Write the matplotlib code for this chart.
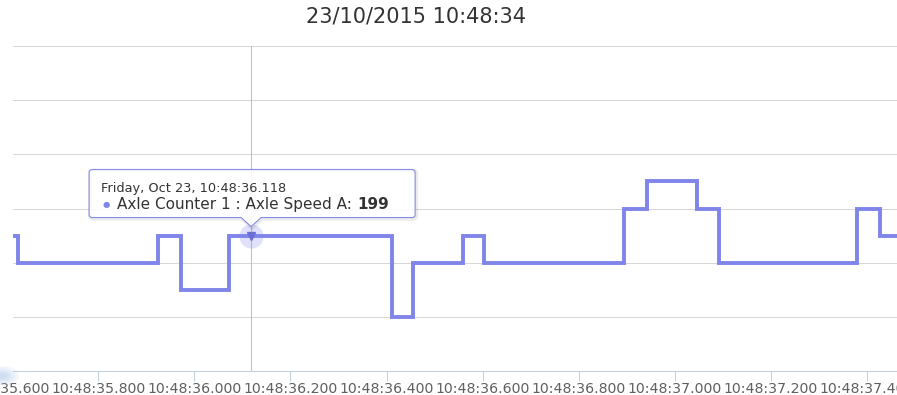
import matplotlib
matplotlib.use("Agg")
import matplotlib.pyplot as plt
from matplotlib.ticker import FixedLocator, FuncFormatter
from matplotlib.patches import PathPatch, Ellipse
from matplotlib.path import Path
from matplotlib.transforms import IdentityTransform

# ---- data -------------------------------------------------------------
title = "23/10/2015 10:48:34"
series_name = "Axle Counter 1 : Axle Speed A"
# seconds past 10:48 at which the speed changes, and the value held from then on
step_times = [35.600, 35.632, 35.924, 35.972, 36.072, 36.411, 36.455, 36.559,
              36.603, 36.895, 36.943, 37.047, 37.093, 37.380, 37.428, 37.480]
step_values = [199, 198, 199, 197, 199, 196, 198, 199,
               198, 200, 201, 200, 198, 200, 199, 199]
tick_times = [35.6, 35.8, 36.0, 36.2, 36.4, 36.6, 36.8, 37.0, 37.2, 37.4]
grid_values = [194, 196, 198, 200, 202, 204, 206]
hover_time = 36.118
hover_value = 199
hover_header = "Friday, Oct 23, 10:48:36.118"

# ---- style ------------------------------------------------------------
W, H = 897, 395
SERIES = "#8085e9"
TEXT = "#333333"
AXIS = "#c0d0e0"
GRID = "#d8d8d8"
LABEL = "#606060"
FONT = "DejaVu Sans"
plt.rcParams["font.family"] = [FONT]


def fmt(t, pos=None):
    return "10:48:%.3f" % t


fig = plt.figure(figsize=(W / 100, H / 100), dpi=100)
fig.patch.set_facecolor("white")
ax = fig.add_axes([13 / W, (H - 371) / H, (W - 13) / W, (371 - 46) / H])
ax.set_xlim(35.6219, 37.4635)
ax.set_ylim(grid_values[0], grid_values[-1])

for s in ("left", "right", "top"):
    ax.spines[s].set_visible(False)
ax.spines["bottom"].set_color(AXIS)
ax.spines["bottom"].set_linewidth(0.75)
ax.spines["bottom"].set_zorder(3)

ax.set_yticks(grid_values)
ax.tick_params(axis="y", length=0, labelleft=False)
ax.yaxis.grid(True, color=GRID, lw=0.75)
ax.set_axisbelow(True)

ax.xaxis.set_major_locator(FixedLocator(tick_times))
ax.xaxis.set_major_formatter(FuncFormatter(fmt))
tick_len, tick_pad, tick_size = 7.2, 0.5, 10.2
ax.tick_params(axis="x", direction="out", length=tick_len, width=0.75,
               color=AXIS, labelsize=tick_size, labelcolor=LABEL, pad=tick_pad)
# labels of ticks that sit just outside the plot area are still shown
x0, x1 = ax.get_xlim()
for t in tick_times:
    if t < x0 or t > x1:
        ax.annotate(fmt(t), xy=(t, 0), xycoords=ax.get_xaxis_transform(),
                    xytext=(0, -(tick_len + tick_pad)), textcoords="offset points",
                    ha="center", va="top", fontsize=tick_size, color=LABEL,
                    annotation_clip=False)

# crosshair, series and hovered point
ax.axvline(hover_time, color="#c0c0c0", lw=0.75, zorder=2)
ax.step(step_times, step_values, where="post", color=SERIES, lw=2.8,
        solid_joinstyle="miter", zorder=3)
ax.scatter([hover_time], [hover_value], s=300, color=SERIES, alpha=0.25,
           lw=0, zorder=4)
ax.plot([hover_time], [hover_value], marker="v", ms=6, color="#6a6fd8",
        lw=0, zorder=5)

# title
fig.text(416 / W, 1 - 17 / H, title, ha="center", va="center",
         fontsize=15, color=TEXT)

# faint blue smudge in the lower-left corner
for w, h, a in [(36, 20, 0.18), (28, 15, 0.22), (20, 10, 0.25), (12, 6, 0.3)]:
    fig.add_artist(Ellipse((1, 19), w, h, transform=IdentityTransform(),
                           facecolor="#b9d0ee", edgecolor="none", alpha=a))

# ---- tooltip ----------------------------------------------------------
axp, ayp = ax.transData.transform((hover_time, hover_value))
left, right = axp - 162, axp + 164
top, bottom = ayp + 66, ayp + 18
tip_y, notch = ayp + 9, 10
r = 3
verts = [
    (left + r, top), (right - r, top), (right, top), (right, top - r),
    (right, bottom + r), (right, bottom), (right - r, bottom),
    (axp + notch, bottom), (axp, tip_y), (axp - notch, bottom),
    (left + r, bottom), (left, bottom), (left, bottom + r),
    (left, top - r), (left, top), (left + r, top), (left + r, top),
]
codes = [
    Path.MOVETO, Path.LINETO, Path.CURVE3, Path.CURVE3,
    Path.LINETO, Path.CURVE3, Path.CURVE3,
    Path.LINETO, Path.LINETO, Path.LINETO,
    Path.LINETO, Path.CURVE3, Path.CURVE3,
    Path.LINETO, Path.CURVE3, Path.CURVE3, Path.CLOSEPOLY,
]
box = Path(verts, codes)
shadow = Path([(x + 1, y - 1) for x, y in verts], codes)
fig.add_artist(PathPatch(shadow, transform=IdentityTransform(), facecolor="none",
                         edgecolor=(0, 0, 0, 0.08), lw=3, zorder=9))
fig.add_artist(PathPatch(box, transform=IdentityTransform(),
                         facecolor=(1, 1, 1, 0.9), edgecolor=SERIES, lw=0.75,
                         zorder=10))

fig.text(axp - 150, ayp + 44, hover_header, transform=IdentityTransform(),
         fontsize=9.3, color=TEXT, ha="left", va="baseline", zorder=11)
fig.text(axp - 145, ayp + 31, "\u25cf", transform=IdentityTransform(),
         fontsize=6, color=SERIES, ha="center", va="center", zorder=11)
name_txt = fig.text(axp - 134, ayp + 26.5, series_name + ": ",
                    transform=IdentityTransform(), fontsize=11, color=TEXT,
                    ha="left", va="baseline", zorder=11)
fig.canvas.draw()
bb = name_txt.get_window_extent()
fig.text(bb.x1, ayp + 26.5, str(hover_value), transform=IdentityTransform(),
         fontsize=11, color=TEXT, fontweight="bold", ha="left",
         va="baseline", zorder=11)

fig.savefig("out.png", dpi=100)
